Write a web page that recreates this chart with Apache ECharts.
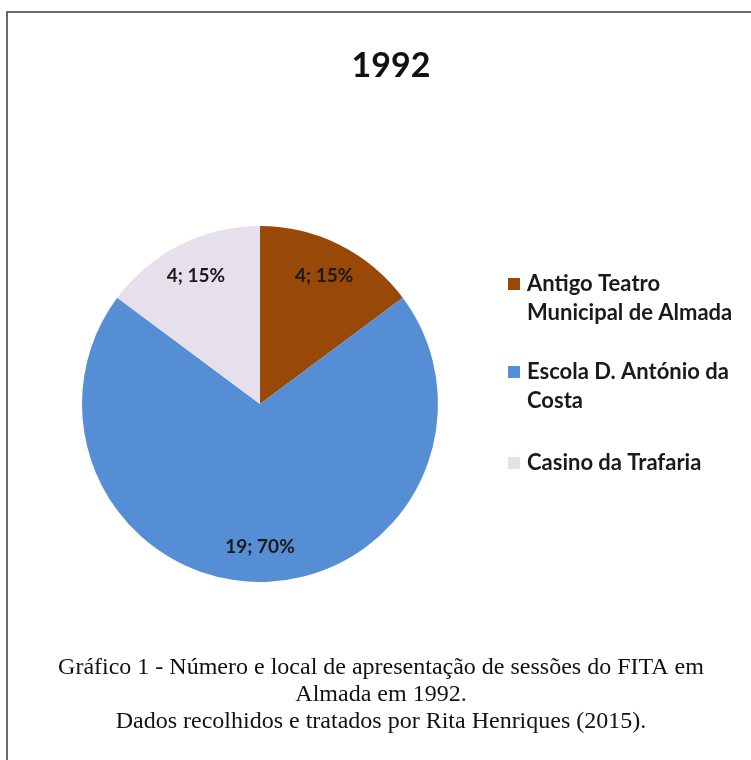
<!DOCTYPE html>
<html>
<head>
<meta charset="utf-8">
<script src="https://cdn.jsdelivr.net/npm/echarts@6/dist/echarts.min.js"></script>
<style>
html,body{margin:0;padding:0;background:#fff;}
#chart{width:751px;height:760px;}
</style>
</head>
<body>
<div id="chart"></div>
<script>
var titleText = '1992';
var categories = ['Antigo Teatro Municipal de Almada', 'Escola D. António da Costa', 'Casino da Trafaria'];
var legendLabels = ['Antigo Teatro\nMunicipal de Almada', 'Escola D. António da\nCosta', 'Casino da Trafaria'];
var values = [4, 19, 4];
var colors = ['#984807', '#558ED5', '#E6E0EC'];
var captionLines = [
  'Gráfico 1 - Número e local de apresentação de sessões do FITA em',
  'Almada em 1992.',
  'Dados recolhidos e tratados por Rita Henriques (2015).'
];

var chart = echarts.init(document.getElementById('chart'));
var pieData = categories.map(function (c, i) {
  return { name: c, value: values[i], itemStyle: { color: colors[i] } };
});
var labelData = categories.map(function (c, i) {
  return { name: c, value: values[i] };
});

var legendY = [284, 372, 463];
var graphics = [
  { type: 'rect', shape: { x: 7, y: 12, width: 900, height: 900 }, style: { fill: 'none', stroke: '#3a3a3a', lineWidth: 1.5 }, silent: true }
];
legendLabels.forEach(function (t, i) {
  graphics.push({ type: 'rect', shape: { x: 508, y: legendY[i] - 6, width: 12, height: 12 }, style: { fill: colors[i] } });
  graphics.push({ type: 'text', x: 527, y: legendY[i] - 14.5, style: { text: t, fill: '#1a1a1a', font: 'bold 22px Lato', lineHeight: 29, textVerticalAlign: 'top' } });
});
var capY = [668, 695, 722];
captionLines.forEach(function (t, i) {
  graphics.push({ type: 'text', x: 381, y: capY[i], style: { text: t, fill: '#111', font: '24px "Liberation Serif"', textAlign: 'center', textVerticalAlign: 'middle' } });
});

chart.setOption({
  animation: false,
  title: { text: titleText, left: 386, top: 44, textAlign: 'center', textStyle: { fontFamily: 'Lato', fontWeight: 'bold', fontSize: 34, color: '#111' } },
  graphic: graphics,
  series: [
    {
      type: 'pie', center: [260, 404], radius: [0, 178], startAngle: 90, clockwise: true,
      label: { show: false }, labelLine: { show: false }, silent: true,
      emphasis: { disabled: true },
      data: pieData
    },
    {
      type: 'pie', center: [260, 404], radius: [100, 180], startAngle: 90, clockwise: true,
      percentPrecision: 0, silent: true, emphasis: { disabled: true },
      itemStyle: { color: 'rgba(0,0,0,0)' },
      labelLine: { show: false },
      label: { show: true, position: 'inside', formatter: '{c}; {d}%', fontFamily: 'Lato', fontWeight: 'bold', fontSize: 19, color: '#1a1a1a' },
      data: labelData
    }
  ]
});
</script>
</body>
</html>
